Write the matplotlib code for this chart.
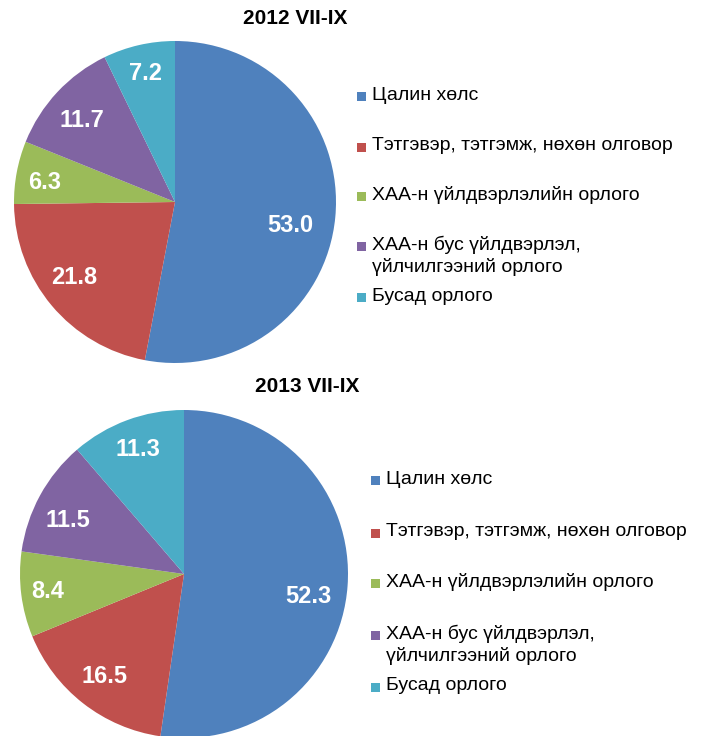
import numpy as np
import matplotlib.pyplot as plt
from matplotlib.patches import Rectangle

plt.rcParams['font.family'] = ['Liberation Sans', 'DejaVu Sans']

categories = ["Цалин хөлс",
              "Тэтгэвэр, тэтгэмж, нөхөн олговор",
              "ХАА-н үйлдвэрлэлийн орлого",
              "ХАА-н бус үйлдвэрлэл,\nүйлчилгээний орлого",
              "Бусад орлого"]
values_2012 = [53.0, 21.8, 6.3, 11.7, 7.2]
values_2013 = [52.3, 16.5, 8.4, 11.5, 11.3]
titles = ["2012 VII-IX", "2013 VII-IX"]
colors = ["#4F81BD", "#C0504D", "#9BBB59", "#8064A2", "#4BACC6"]

W, H = 701, 736
fig = plt.figure(figsize=(W / 100, H / 100), dpi=100)


def fx(x):
    return x / W


def fy(y):
    return 1 - y / H


panels = [
    dict(values=values_2012, title=titles[0], box=(14, 41, 322, 322),
         title_xy=(295, 19),
         label_dist=[0.73, 0.78, 0.82, 0.77, 0.82],
         label_rot=[-6, -3, 2, 2, 0],
         leg_x=357, leg_y=[96, 147, 196, 246, 298]),
    dict(values=values_2013, title=titles[1], box=(20, 410, 328, 328),
         title_xy=(307, 387),
         label_dist=[0.77, 0.79, 0.84, 0.78, 0.81],
         label_rot=[-6, 0, 0, 4, 0],
         leg_x=371, leg_y=[480, 533, 583, 635, 687]),
]

for p in panels:
    x, y, w, h = p["box"]
    ax = fig.add_axes([fx(x), fy(y + h), w / W, h / H])
    wedges, _ = ax.pie(p["values"], colors=colors, startangle=90,
                       counterclock=False, wedgeprops=dict(linewidth=0))
    ax.set_xlim(-1, 1)
    ax.set_ylim(-1, 1)
    ax.set_aspect('equal')

    for wdg, v, d, rot in zip(wedges, p["values"], p["label_dist"],
                              p["label_rot"]):
        ang = np.deg2rad((wdg.theta1 + wdg.theta2) / 2 + rot)
        ax.text(d * np.cos(ang), d * np.sin(ang), f"{v:.1f}",
                ha='center', va='center', color='white',
                fontsize=17, fontweight='bold')

    tx, ty = p["title_xy"]
    fig.text(fx(tx), fy(ty), p["title"], ha='center', va='center',
             fontsize=15, fontweight='bold')

    # legend
    lx = p["leg_x"]
    for cat, col, ly in zip(categories, colors, p["leg_y"]):
        fig.add_artist(Rectangle((fx(lx), fy(ly + 4.5)), 9 / W, 9 / H,
                                 transform=fig.transFigure, color=col,
                                 linewidth=0))
        for k, line in enumerate(cat.split("\n")):
            fig.text(fx(lx + 15), fy(ly - 1 + k * 22), line, ha='left',
                     va='center', fontsize=14)

fig.savefig("out.png", dpi=100)
